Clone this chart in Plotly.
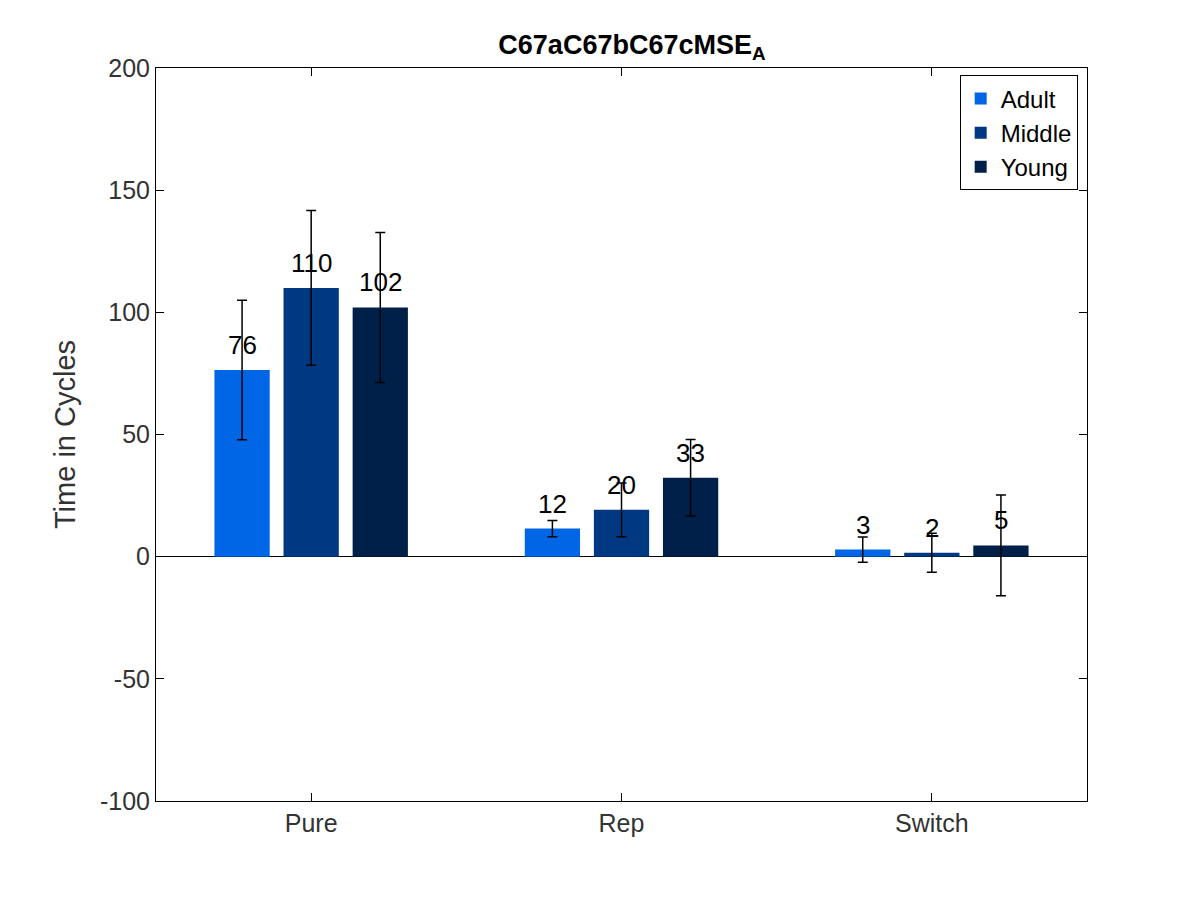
import plotly.graph_objects as go

categories = ["Pure", "Rep", "Switch"]
groups = ["Adult", "Middle", "Young"]
colors = ["#0066E6", "#003882", "#002049"]
values = {
    "Adult": [76.4, 11.5, 2.9],
    "Middle": [110.0, 19.2, 1.6],
    "Young": [102.0, 32.3, 4.6],
}
errors = {
    "Adult": [28.5, 3.3, 5.2],
    "Middle": [31.7, 11.0, 8.0],
    "Young": [30.7, 15.7, 20.6],
}
labels = {
    "Adult": ["76", "12", "3"],
    "Middle": ["110", "20", "2"],
    "Young": ["102", "33", "5"],
}
yticks = [-100, -50, 0, 50, 100, 150, 200]

fig = go.Figure()
xpos = list(range(len(categories)))
step = 0.2226
for i, (g, c) in enumerate(zip(groups, colors)):
    fig.add_trace(go.Bar(
        x=xpos, y=values[g], name=g, marker=dict(color=c, line=dict(width=0)),
        error_y=dict(type="data", array=errors[g], color="black", thickness=1.5, width=5),
    ))
    for x, v, t in zip(xpos, values[g], labels[g]):
        fig.add_annotation(x=x + (i - 1) * step, y=v, text=t, showarrow=False,
                           yshift=25, font=dict(size=26, color="black"))

axis_common = dict(showline=True, linecolor="black", mirror="ticks", ticks="inside",
                   tickcolor="black", ticklen=8, showgrid=False,
                   tickfont=dict(size=25, color="#333"))
fig.update_layout(
    width=1200, height=900,
    barmode="group", bargap=0.332, bargroupgap=0.2,
    paper_bgcolor="white", plot_bgcolor="white",
    margin=dict(l=148, r=121, t=60, b=107),
    font=dict(family="Liberation Sans, Arial"),
    title=dict(text="<b>C67aC67bC67cMSE<sub>A</sub></b>", x=0.52, xanchor="center",
               y=0.97, font=dict(size=27, color="black")),
    xaxis=dict(range=[-0.5, 2.5], tickvals=xpos, ticktext=categories, **axis_common),
    yaxis=dict(range=[-100, 200], tickvals=yticks, ticktext=[str(v) for v in yticks],
               zeroline=True, zerolinecolor="black", zerolinewidth=1,
               title=dict(text="Time in Cycles", font=dict(size=29, color="#333")),
               **axis_common),
    legend=dict(x=0.99, y=0.99, xanchor="right", yanchor="top", bordercolor="black",
                borderwidth=1, bgcolor="white", font=dict(size=24, color="black"),
                tracegroupgap=0, itemsizing="constant"),
)

fig.write_html("out.html")
